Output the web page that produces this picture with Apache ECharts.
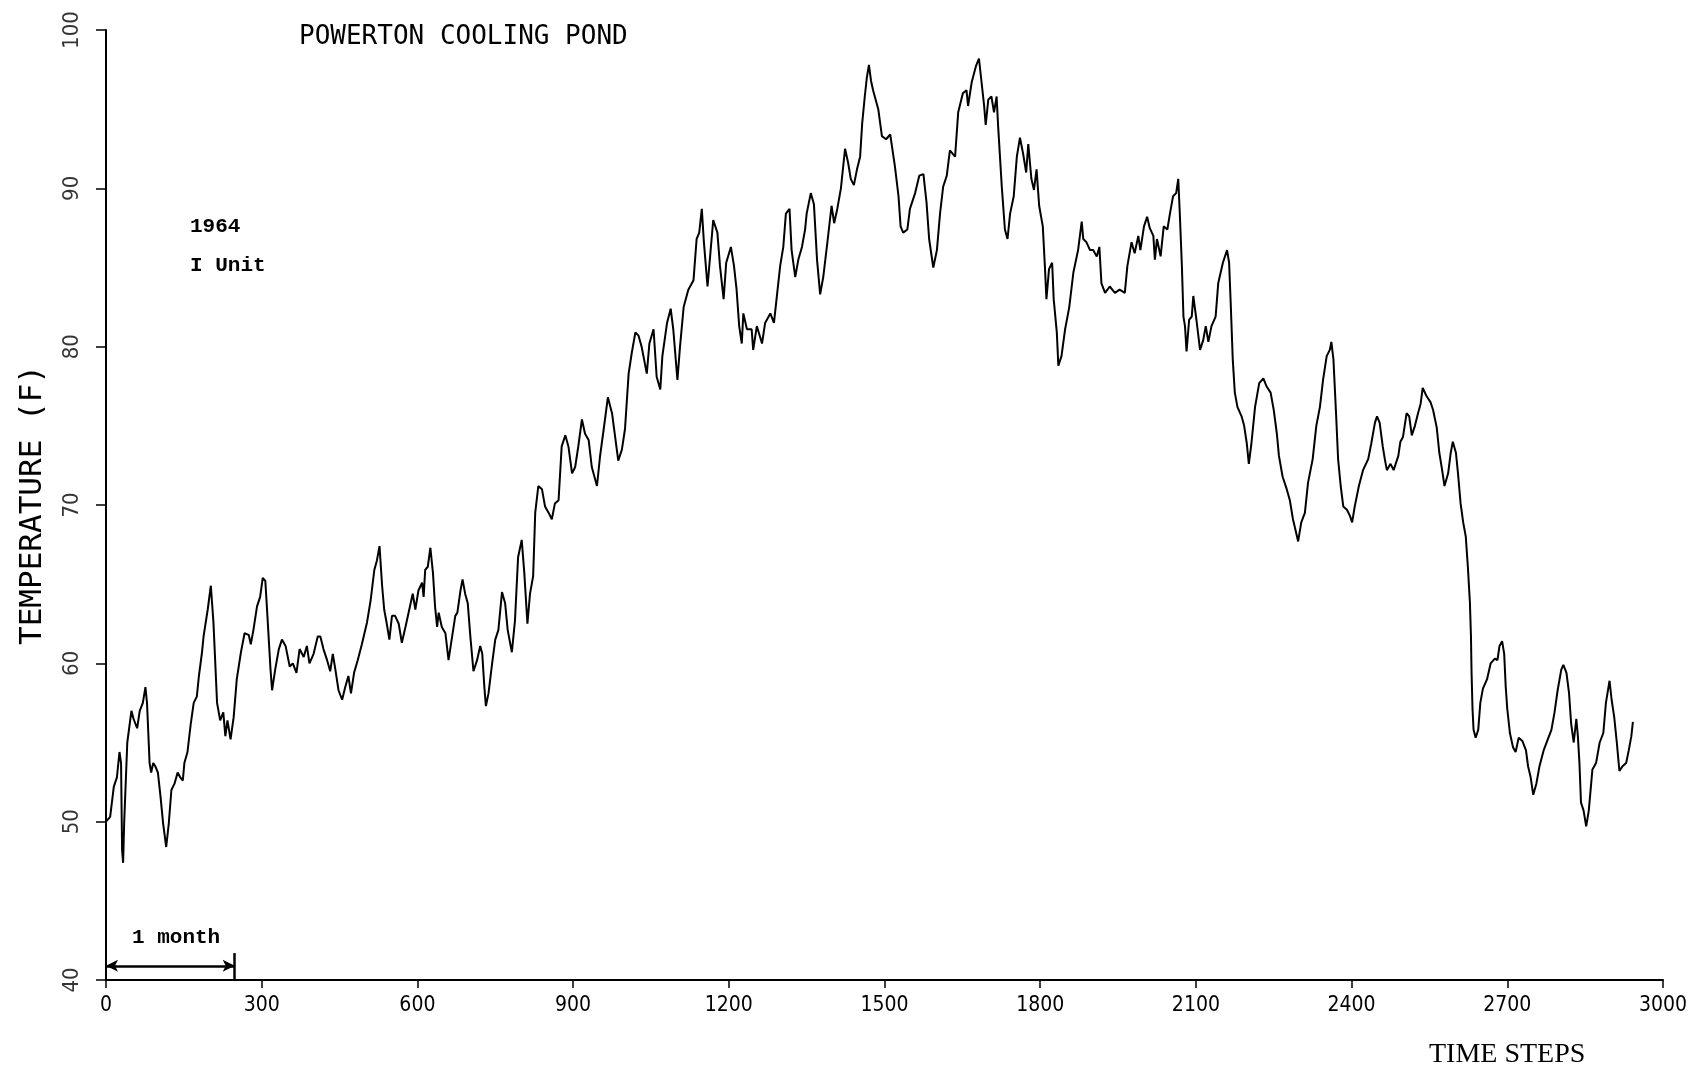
<!DOCTYPE html>
<html>
<head>
<meta charset="utf-8">
<script src="https://cdn.jsdelivr.net/npm/echarts@6/dist/echarts.min.js"></script>
<style>
html,body{margin:0;padding:0;background:#fff;}
#chart{width:1707px;height:1071px;}
</style>
</head>
<body>
<div id="chart"></div>
<script>
// ---- data (time step, temperature F) ----
const timeSteps = [
0,2,8,15,21,26,29,31,33,35,41,49,53,60,65,71,76,79,84,87,91,95,100,105,110,116,121,126,132,138,143,148,151,157,163,169,175,179,185,188,196,202,207,214,220,226,230,234,240,246,252,260,267,275,279,284,291,297,302,307,311,317,320,326,333,339,346,354,360,367,373,381,387,392,400,408,413,419,426,432,437,442,448,455,461,467,472,478,485,493,503,510,517,522,527,
532,536,541,546,551,557,564,570,577,583,591,596,602,609,612,615,620,625,630,634,638,641,647,654,660,666,673,677,683,687,692,697,702,708,715,721,725,729,732,737,744,750,756,763,769,774,782,788,794,801,806,812,817,823,827,833,840,846,853,859,865,872,878,885,891,898,904,910,917,923,930,936,946,952,959,967,975,981,987,994,1000,1007,1013,1020,1026,1032,
1042,1047,1055,1061,1068,1072,1081,1088,1093,1101,1106,1113,1122,1132,1138,1143,1148,1152,1159,1164,1170,1178,1183,1190,1195,1204,1210,1215,1220,1225,1228,1235,1244,1247,1254,1264,1270,1280,1287,1292,1299,1305,1310,1317,1321,1328,1334,1341,1347,1350,1358,1364,1370,1376,1382,1390,1398,1403,1409,1416,1424,1430,1435,1441,1447,1453,1457,1462,1466,1470,1474,1478,1488,1495,1503,1511,
1520,1527,1531,1536,1544,1549,1559,1567,1575,1581,1586,1594,1601,1607,1613,1620,1626,1636,1642,1651,1658,1661,1668,1676,1682,1687,1692,1695,1700,1706,1711,1716,1719,1726,1732,1737,1742,1749,1755,1761,1767,1773,1777,1783,1788,1793,1798,1805,1809,1812,1817,1823,1826,1832,1835,1841,1848,1856,1864,1873,1880,1883,1889,1896,1902,1909,1914,1918,1925,1934,1944,1953,1963,1968,1976,1982,1989,1993,2000,2006,2011,2018,2021,2025,2032,2038,2045,2050,
2056,2062,2066,2069,2073,2076,2079,2082,2087,2092,2095,2101,2108,2114,2119,2124,2130,2138,2143,2152,2160,2164,2167,2171,2175,2180,2188,2193,2198,2202,2207,2214,2222,2230,2236,2244,2250,2256,2260,2267,2275,2281,2287,2292,2297,2303,2310,2316,2325,2332,2339,2345,2352,2358,2361,2365,2370,2374,2379,2384,2391,2397,2401,2406,2414,2422,2432,2438,2445,2449,2454,2460,2464,2468,2475,2481,2490,2494,2499,2506,2511,2516,2522,2528,2533,2537,2544,2552,
2557,2564,2569,2574,2579,2586,2591,2595,2601,2605,2610,2615,2620,2624,2628,2630,2631,2633,2635,2639,2644,2648,2653,2661,2668,2676,2681,2685,2690,2694,2697,2700,2705,2711,2716,2722,2729,2736,2740,2745,2750,2756,2762,2770,2778,2785,2791,2797,2804,2808,2814,2819,2823,2828,2833,2836,2839,2842,2847,2852,2857,2864,2871,2878,2885,2890,2897,2901,2906,2911,2916,2922,2929,2934,2939,2942];
const temperatureF = [
50.0,50.1,50.3,52.2,52.8,54.4,53.7,48.2,47.4,49.9,55.0,57.0,56.5,55.9,57.0,57.5,58.5,57.5,53.7,53.1,53.7,53.5,53.1,51.6,49.9,48.4,49.9,52.0,52.4,53.1,52.8,52.6,53.7,54.4,56.1,57.5,57.9,59.2,60.7,61.7,63.4,64.9,62.6,57.5,56.4,56.9,55.4,56.4,55.2,56.6,59.0,60.7,61.9,61.8,61.2,62.1,63.6,64.2,65.4,65.2,63.0,59.6,58.3,59.6,60.9,61.5,61.1,59.8,60.0,59.4,60.9,60.4,61.1,60.0,60.6,61.7,61.7,60.9,60.2,59.5,60.6,59.6,58.3,57.7,58.5,59.2,58.1,59.4,60.2,61.2,62.6,64.0,65.9,66.5,67.4,
64.9,63.4,62.5,61.5,63.0,63.0,62.5,61.3,62.3,63.2,64.4,63.4,64.6,65.1,64.2,65.9,66.1,67.3,65.7,63.6,62.3,63.2,62.3,61.9,60.2,61.5,63.0,63.2,64.6,65.3,64.4,63.8,61.7,59.5,60.2,61.1,60.6,58.5,57.3,58.1,60.0,61.5,62.1,64.5,63.8,62.1,60.7,62.7,66.7,67.8,65.7,62.5,64.4,65.5,69.5,71.2,71.0,69.9,69.5,69.1,70.1,70.3,73.7,74.4,73.7,72.0,72.4,73.7,75.4,74.5,74.1,72.4,71.2,73.1,74.8,76.8,75.8,74.3,72.8,73.5,74.8,78.3,79.6,80.9,80.7,80.0,
78.3,80.2,81.1,78.1,77.3,79.4,81.5,82.4,81.1,77.9,80.0,82.5,83.6,84.2,86.8,87.2,88.7,86.6,83.8,85.7,88.0,87.2,85.1,83.0,85.3,86.3,85.1,83.6,81.3,80.2,82.1,81.1,81.1,79.8,81.3,80.2,81.5,82.1,81.5,83.0,85.1,86.3,88.4,88.7,86.1,84.4,85.5,86.3,87.4,88.4,89.7,89.0,85.5,83.3,84.4,86.6,88.9,87.8,88.7,90.0,92.5,91.6,90.6,90.2,91.2,92.0,94.1,95.8,97.0,97.8,96.8,96.2,95.0,93.3,93.1,93.4,
91.4,89.5,87.6,87.2,87.4,88.7,89.7,90.8,90.9,89.1,86.8,85.0,86.1,88.4,90.1,90.8,92.4,92.0,94.8,96.0,96.2,95.2,96.7,97.7,98.2,96.7,95.2,94.0,95.6,95.8,94.8,95.8,93.9,90.1,87.4,86.8,88.4,89.5,92.0,93.2,92.2,91.0,92.8,90.6,89.9,91.2,88.9,87.6,85.1,83.0,84.9,85.3,83.0,80.9,78.8,79.4,81.1,82.5,84.7,86.1,87.9,86.8,86.6,86.1,86.1,85.7,86.3,84.0,83.4,83.8,83.4,83.6,83.4,85.1,86.6,85.9,87.0,86.1,87.6,88.2,87.5,87.0,85.5,86.8,85.7,87.6,87.4,88.4,
89.5,89.7,90.6,88.4,85.1,81.9,81.3,79.7,81.7,81.9,83.2,81.7,79.8,80.4,81.3,80.3,81.3,81.9,84.0,85.3,86.1,85.3,82.8,79.2,77.1,76.2,75.6,75.0,73.9,72.6,73.9,76.2,77.7,78.0,77.5,77.1,76.0,74.5,73.1,71.8,71.0,70.3,69.1,68.4,67.7,68.9,69.5,71.4,72.9,75.0,76.2,77.9,79.4,79.8,80.3,79.2,75.8,72.9,71.2,69.9,69.7,69.3,68.9,69.9,71.2,72.2,72.9,73.9,75.2,75.6,75.2,73.7,72.9,72.2,72.6,72.2,73.1,74.0,74.3,75.8,75.6,74.4,75.0,75.8,76.4,77.4,76.9,76.5,
76.0,74.9,73.3,72.3,71.2,72.0,73.3,74.0,73.3,72.0,70.1,68.9,68.0,66.1,63.8,61.7,59.6,57.1,55.8,55.3,55.8,57.5,58.4,59.0,60.0,60.3,60.2,61.1,61.4,60.6,58.5,57.1,55.6,54.7,54.4,55.3,55.1,54.5,53.5,52.8,51.7,52.4,53.5,54.5,55.2,55.8,56.9,58.3,59.6,59.9,59.4,58.1,56.2,55.0,56.5,55.4,53.7,51.2,50.7,49.7,50.7,53.3,53.7,55.0,55.6,57.5,58.9,57.7,56.6,55.0,53.2,53.5,53.7,54.5,55.4,56.3];
const xTicks = [0,300,600,900,1200,1500,1800,2100,2400,2700,3000];
const yTicks = [40,50,60,70,80,90,100];
const monthSpan = [0, 248];      // "1 month" in time steps
const monthArrowTemp = 40.9;     // height of the arrow
const monthBarTop = 41.7;

const chart = echarts.init(document.getElementById('chart'));
const series = timeSteps.map((t, i) => [t, temperatureF[i]]);
const plotFont = "'DejaVu Sans Mono', monospace";
const tickFont = "'DejaVu Sans Condensed','DejaVu Sans Mono',monospace";
const noteFont = "bold 21px 'Liberation Mono', monospace";

chart.setOption({
  backgroundColor: '#fff',
  animation: false,
  grid: {left: 106, right: 44, top: 30, bottom: 91, containLabel: false},
  xAxis: {
    type: 'value', min: xTicks[0], max: xTicks[xTicks.length-1], interval: 300,
    axisLine: {show: true, onZero: false, lineStyle: {color: '#000', width: 2}},
    axisTick: {show: true, inside: false, length: 8, lineStyle: {color: '#000', width: 1.5}},
    axisLabel: {color: '#000', fontSize: 21, fontFamily: tickFont, margin: 15,
      formatter: v => String(v)},
    splitLine: {show: false}
  },
  yAxis: {
    type: 'value', min: yTicks[0], max: yTicks[yTicks.length-1], interval: 10,
    name: 'TEMPERATURE (F)', nameLocation: 'middle', nameGap: 58, nameRotate: 90,
    nameTextStyle: {color: '#000', fontSize: 31, fontFamily: plotFont},
    axisLine: {show: true, onZero: false, lineStyle: {color: '#000', width: 2}},
    axisTick: {show: true, inside: false, length: 10, lineStyle: {color: '#000', width: 1.5}},
    axisLabel: {show: false},
    splitLine: {show: false}
  },
  title: {
    text: 'POWERTON COOLING POND', left: 294, top: 19,
    textStyle: {color: '#000', fontSize: 26, fontWeight: 'normal', fontFamily: plotFont}
  },
  graphic: [
    {id: 'n1', type: 'text', left: 190, top: 216, style: {text: '1964', fill: '#000', font: noteFont}},
    {id: 'n2', type: 'text', left: 190, top: 255, style: {text: 'I Unit', fill: '#000', font: noteFont}},
    {id: 'n3', type: 'text', left: 132, top: 927, style: {text: '1 month', fill: '#000', font: noteFont}},
    {id: 'n4', type: 'text', left: 1429, top: 1041, style: {text: 'TIME STEPS', fill: '#000', font: "28px 'Liberation Serif', serif"}}
  ],
  series: [
    {
      type: 'line', data: series, showSymbol: false, symbol: 'none',
      lineStyle: {color: '#000', width: 2}, silent: true,
      markLine: {
        silent: true, animation: false,
        label: {show: false},
        data: [
          [{coord: [monthSpan[0], monthArrowTemp], symbol: 'arrow', symbolSize: [9, 12]},
           {coord: [monthSpan[1], monthArrowTemp], symbol: 'arrow', symbolSize: [9, 12]}],
          [{coord: [monthSpan[1], yTicks[0]], symbol: 'none'},
           {coord: [monthSpan[1], monthBarTop], symbol: 'none'}]
        ],
        lineStyle: {color: '#000', width: 2.5, type: 'solid'}
      }
    },
    {
      // rotated y tick labels anchored at the tick positions
      type: 'scatter', silent: true, clip: false,
      data: yTicks.map(v => [xTicks[0], v]),
      symbol: 'circle', symbolSize: 2, itemStyle: {color: 'rgba(255,255,255,0)'},
      label: {
        show: true, position: 'left', distance: 33, rotate: 90,
        align: 'center', verticalAlign: 'middle',
        formatter: p => String(p.value[1]),
        color: '#000', fontSize: 22, fontFamily: tickFont
      },
      labelLayout: {hideOverlap: false},
      z: 5
    }
  ]
});
</script>
</body>
</html>
